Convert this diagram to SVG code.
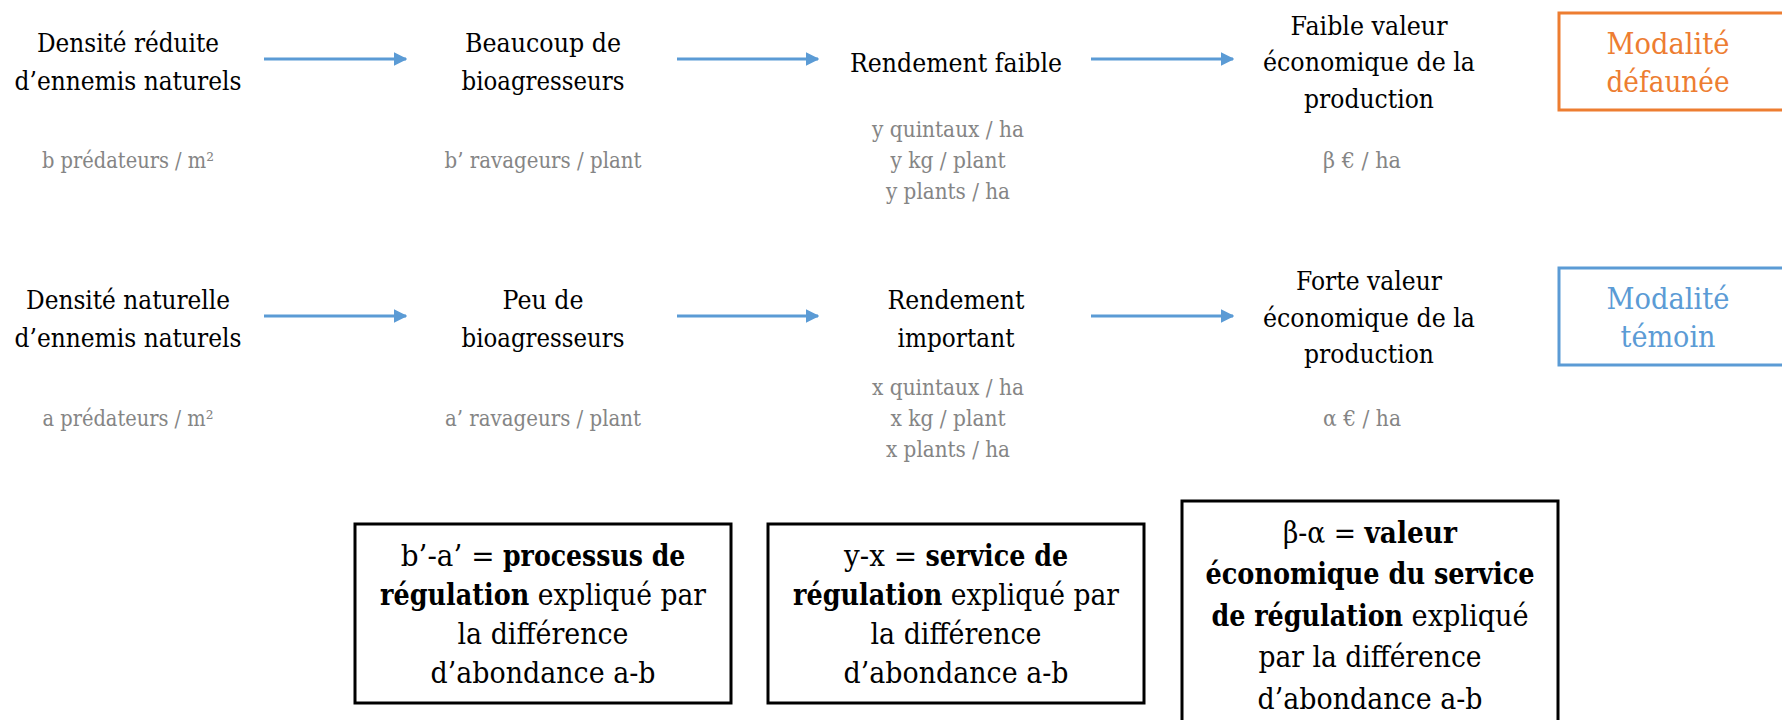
<svg xmlns="http://www.w3.org/2000/svg" width="1782" height="720" viewBox="0 0 1782 720">
<defs>
<style>
text{font-family:'DejaVu Serif','Liberation Serif',serif;text-anchor:middle}
.t{font-size:26.5px;fill:#000}
.g{font-size:22.5px;fill:#858585}
.m{font-size:30px}
.b{font-size:30px;fill:#000}
.s{text-anchor:start}
.e{text-anchor:end}
.bd{font-weight:bold}
.arr{stroke:#5b9bd5;stroke-width:3;fill:none;marker-end:url(#ah)}
.box{fill:#fff;stroke:#000;stroke-width:3}
</style>
<marker id="ah" viewBox="0 0 10 10" refX="9" refY="5" markerWidth="4.5" markerHeight="4.5" orient="auto" markerUnits="strokeWidth">
<path d="M0,0 L10,5 L0,10 z" fill="#5b9bd5"/>
</marker>
</defs>
<rect width="1782" height="720" fill="#fff"/>
<g id="connectors">
<line class="arr" x1="264" y1="59" x2="406" y2="59"/>
<line class="arr" x1="677" y1="59" x2="818" y2="59"/>
<line class="arr" x1="1091" y1="59" x2="1233" y2="59"/>
<line class="arr" x1="264" y1="316" x2="406" y2="316"/>
<line class="arr" x1="677" y1="316" x2="818" y2="316"/>
<line class="arr" x1="1091" y1="316" x2="1233" y2="316"/>
</g>
<g id="n1a">
<text class="t" x="128" y="52" textLength="182" lengthAdjust="spacingAndGlyphs">Densité réduite</text>
<text class="t" x="128" y="90" textLength="227" lengthAdjust="spacingAndGlyphs">d’ennemis naturels</text>
<text class="g" x="128" y="168" textLength="172" lengthAdjust="spacingAndGlyphs">b prédateurs / m²</text>
</g>
<g id="n2a">
<text class="t" x="543" y="52" textLength="156" lengthAdjust="spacingAndGlyphs">Beaucoup de</text>
<text class="t" x="543" y="90" textLength="163" lengthAdjust="spacingAndGlyphs">bioagresseurs</text>
<text class="g" x="543" y="168" textLength="197" lengthAdjust="spacingAndGlyphs">b’ ravageurs / plant</text>
</g>
<g id="n3a">
<text class="t" x="956" y="72" textLength="212" lengthAdjust="spacingAndGlyphs">Rendement faible</text>
<text class="g" x="948" y="137" textLength="152" lengthAdjust="spacingAndGlyphs">y quintaux / ha</text>
<text class="g" x="948" y="168" textLength="115" lengthAdjust="spacingAndGlyphs">y kg / plant</text>
<text class="g" x="948" y="199" textLength="124" lengthAdjust="spacingAndGlyphs">y plants / ha</text>
</g>
<g id="n4a">
<text class="t" x="1369" y="35" textLength="157" lengthAdjust="spacingAndGlyphs">Faible valeur</text>
<text class="t" x="1369" y="71" textLength="212" lengthAdjust="spacingAndGlyphs">économique de la</text>
<text class="t" x="1369" y="108" textLength="130" lengthAdjust="spacingAndGlyphs">production</text>
<text class="g" x="1362" y="168" textLength="78" lengthAdjust="spacingAndGlyphs">β € / ha</text>
</g>
<g id="mod1">
<rect x="1559" y="13" width="230" height="97" fill="none" stroke="#ed7d31" stroke-width="3"/>
<text class="m" x="1668" y="54" fill="#ed7d31" textLength="123" lengthAdjust="spacingAndGlyphs">Modalité</text>
<text class="m" x="1668" y="92" fill="#ed7d31" textLength="123" lengthAdjust="spacingAndGlyphs">défaunée</text>
</g>
<g id="n1b">
<text class="t" x="128" y="309" textLength="204" lengthAdjust="spacingAndGlyphs">Densité naturelle</text>
<text class="t" x="128" y="347" textLength="227" lengthAdjust="spacingAndGlyphs">d’ennemis naturels</text>
<text class="g" x="128" y="426" textLength="171" lengthAdjust="spacingAndGlyphs">a prédateurs / m²</text>
</g>
<g id="n2b">
<text class="t" x="543" y="309" textLength="81" lengthAdjust="spacingAndGlyphs">Peu de</text>
<text class="t" x="543" y="347" textLength="163" lengthAdjust="spacingAndGlyphs">bioagresseurs</text>
<text class="g" x="543" y="426" textLength="196" lengthAdjust="spacingAndGlyphs">a’ ravageurs / plant</text>
</g>
<g id="n3b">
<text class="t" x="956" y="309" textLength="137" lengthAdjust="spacingAndGlyphs">Rendement</text>
<text class="t" x="956" y="347" textLength="117" lengthAdjust="spacingAndGlyphs">important</text>
<text class="g" x="948" y="395" textLength="152" lengthAdjust="spacingAndGlyphs">x quintaux / ha</text>
<text class="g" x="948" y="426" textLength="115" lengthAdjust="spacingAndGlyphs">x kg / plant</text>
<text class="g" x="948" y="457" textLength="124" lengthAdjust="spacingAndGlyphs">x plants / ha</text>
</g>
<g id="n4b">
<text class="t" x="1369" y="290" textLength="146" lengthAdjust="spacingAndGlyphs">Forte valeur</text>
<text class="t" x="1369" y="327" textLength="212" lengthAdjust="spacingAndGlyphs">économique de la</text>
<text class="t" x="1369" y="363" textLength="130" lengthAdjust="spacingAndGlyphs">production</text>
<text class="g" x="1362" y="426" textLength="78" lengthAdjust="spacingAndGlyphs">α € / ha</text>
</g>
<g id="mod2">
<rect x="1559" y="268" width="230" height="97" fill="none" stroke="#5b9bd5" stroke-width="3"/>
<text class="m" x="1668" y="309" fill="#5b9bd5" textLength="123" lengthAdjust="spacingAndGlyphs">Modalité</text>
<text class="m" x="1668" y="347" fill="#5b9bd5" textLength="95" lengthAdjust="spacingAndGlyphs">témoin</text>
</g>
<g id="boxA">
<rect class="box" x="355" y="524" width="376" height="179"/>
<text class="b e" x="494.5" y="566" textLength="93.7" lengthAdjust="spacingAndGlyphs">b’-a’ =</text>
<text class="b s bd" x="503" y="566" textLength="182.3" lengthAdjust="spacingAndGlyphs">processus de</text>
<text class="b e bd" x="529.2" y="605" textLength="149.2" lengthAdjust="spacingAndGlyphs">régulation</text>
<text class="b s" x="537.7" y="605" textLength="168.3" lengthAdjust="spacingAndGlyphs">expliqué par</text>
<text class="b" x="543" y="644" textLength="171" lengthAdjust="spacingAndGlyphs">la différence</text>
<text class="b" x="543" y="683" textLength="225" lengthAdjust="spacingAndGlyphs">d’abondance a-b</text>
</g>
<g id="boxB">
<rect class="box" x="768" y="524" width="376" height="179"/>
<text class="b e" x="917" y="566" textLength="73" lengthAdjust="spacingAndGlyphs">y-x =</text>
<text class="b s bd" x="925.5" y="566" textLength="142.6" lengthAdjust="spacingAndGlyphs">service de</text>
<text class="b e bd" x="942.2" y="605" textLength="149.2" lengthAdjust="spacingAndGlyphs">régulation</text>
<text class="b s" x="950.7" y="605" textLength="168.3" lengthAdjust="spacingAndGlyphs">expliqué par</text>
<text class="b" x="956" y="644" textLength="171" lengthAdjust="spacingAndGlyphs">la différence</text>
<text class="b" x="956" y="683" textLength="225" lengthAdjust="spacingAndGlyphs">d’abondance a-b</text>
</g>
<g id="boxC">
<rect class="box" x="1182" y="501" width="376" height="240"/>
<text class="b e" x="1356" y="543" textLength="73" lengthAdjust="spacingAndGlyphs">β-α =</text>
<text class="b s bd" x="1364.5" y="543" textLength="92.5" lengthAdjust="spacingAndGlyphs">valeur</text>
<text class="b bd" x="1370" y="584" textLength="329" lengthAdjust="spacingAndGlyphs">économique du service</text>
<text class="b e bd" x="1403.1" y="626" textLength="191.7" lengthAdjust="spacingAndGlyphs">de régulation</text>
<text class="b s" x="1411.6" y="626" textLength="117.1" lengthAdjust="spacingAndGlyphs">expliqué</text>
<text class="b" x="1370" y="667" textLength="223" lengthAdjust="spacingAndGlyphs">par la différence</text>
<text class="b" x="1370" y="709" textLength="225" lengthAdjust="spacingAndGlyphs">d’abondance a-b</text>
</g>
</svg>
